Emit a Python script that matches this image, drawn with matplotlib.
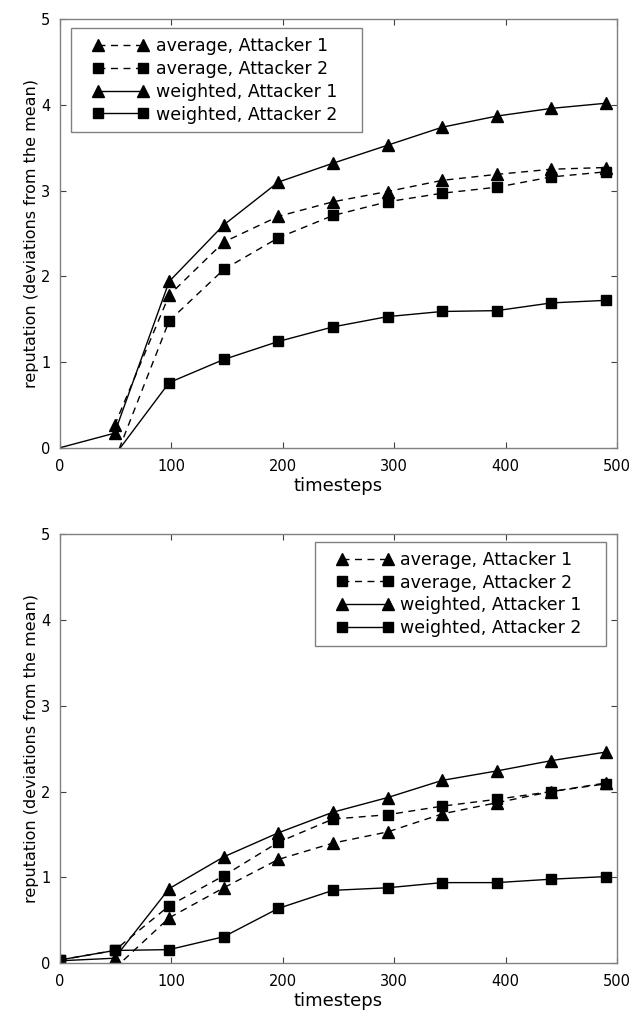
import numpy as np
import matplotlib
matplotlib.use("Agg")
import matplotlib.pyplot as plt
from matplotlib.lines import Line2D
from matplotlib.legend_handler import HandlerLine2D
from matplotlib.patches import Rectangle

nan = np.nan

timesteps = [0, 49, 98, 147, 196, 245, 294, 343, 392, 441, 490]
labels = ["average, Attacker 1", "average, Attacker 2",
          "weighted, Attacker 1", "weighted, Attacker 2"]

# top panel
top_avg_a1 = [nan, 0.26, 1.78, 2.40, 2.70, 2.87, 2.99, 3.12, 3.19, 3.25, 3.27]
top_avg_a2 = [nan, -0.15, 1.48, 2.08, 2.45, 2.71, 2.87, 2.97, 3.04, 3.16, 3.22]
top_w_a1 = [0.0, 0.17, 1.94, 2.60, 3.10, 3.32, 3.53, 3.74, 3.87, 3.96, 4.02]
top_w_a2 = [nan, -0.09, 0.76, 1.03, 1.24, 1.41, 1.53, 1.59, 1.60, 1.69, 1.72]

# bottom panel
bot_avg_a1 = [nan, -0.06, 0.53, 0.88, 1.21, 1.40, 1.53, 1.74, 1.87, 2.00, 2.10]
bot_avg_a2 = [0.04, 0.15, 0.67, 1.02, 1.41, 1.68, 1.73, 1.83, 1.91, 2.00, 2.09]
bot_w_a1 = [0.03, 0.06, 0.87, 1.24, 1.52, 1.76, 1.93, 2.13, 2.24, 2.36, 2.46]
bot_w_a2 = [0.04, 0.15, 0.16, 0.31, 0.64, 0.85, 0.88, 0.94, 0.94, 0.98, 1.01]

STYLES = [("--", "^", 8.5), ("--", "s", 6.5), ("-", "^", 8.5), ("-", "s", 6.5)]
FRAME = "#808080"
PADX = 16  # extra horizontal room inside the legend box (px)

fig = plt.figure(figsize=(6.31, 10.13), dpi=100)
ax_top = fig.add_axes([0.095, 0.558, 0.883, 0.423])
ax_bot = fig.add_axes([0.095, 0.049, 0.883, 0.424])


def draw(ax, series, legend_loc, anchor, skip_first=False):
    for values, label, (ls, marker, ms) in zip(series, labels, STYLES):
        every = list(range(1, len(timesteps))) if skip_first else None
        ax.plot(timesteps, values, linestyle=ls, marker=marker, markersize=ms,
                color="black", linewidth=1.0, label=label, markevery=every,
                dashes=(5, 4) if ls == "--" else (None, None))
    ax.set_xlim(0, 500)
    ax.set_ylim(0, 5)
    ax.set_xticks([0, 100, 200, 300, 400, 500])
    ax.set_yticks([0, 1, 2, 3, 4, 5])
    ax.tick_params(direction="in", top=True, right=True, length=4,
                   labelsize=10.5, color="#404040")
    ax.tick_params(axis="y", pad=7)
    ax.tick_params(axis="x", pad=8)
    for s in ax.spines.values():
        s.set_color(FRAME)
        s.set_linewidth(1.0)
    ax.set_xlabel("timesteps", fontsize=13, labelpad=2)
    ax.set_ylabel("reputation (deviations from the mean)", fontsize=11.5, labelpad=1.5)
    leg = ax.legend(loc=legend_loc, bbox_to_anchor=anchor, borderaxespad=0,
                    fontsize=12.5, frameon=False, numpoints=2, handlelength=2.86,
                    handletextpad=0.59, labelspacing=0.28, borderpad=0.5,
                    handler_map={Line2D: HandlerLine2D(marker_pad=0.13)})
    return leg


leg_top = draw(ax_top, [top_avg_a1, top_avg_a2, top_w_a1, top_w_a2], "upper left",
               ((71 + PADX - 60) / 557, 0.979), skip_first=True)
leg_bot = draw(ax_bot, [bot_avg_a1, bot_avg_a2, bot_w_a1, bot_w_a2], "upper right",
               ((606 - PADX - 60) / 557, 0.981))

# legend frames: wider than the text block, as in the original
fig.canvas.draw()
renderer = fig.canvas.get_renderer()
for leg in (leg_top, leg_bot):
    bb = leg.get_window_extent(renderer)
    (x0, y0), (x1, y1) = fig.transFigure.inverted().transform(
        [(bb.x0 - PADX, bb.y0), (bb.x1 + PADX, bb.y1)])
    fig.add_artist(Rectangle((x0, y0), x1 - x0, y1 - y0, transform=fig.transFigure,
                             fill=False, edgecolor=FRAME, linewidth=1.0, zorder=6))

fig.savefig("out.png", dpi=100)
